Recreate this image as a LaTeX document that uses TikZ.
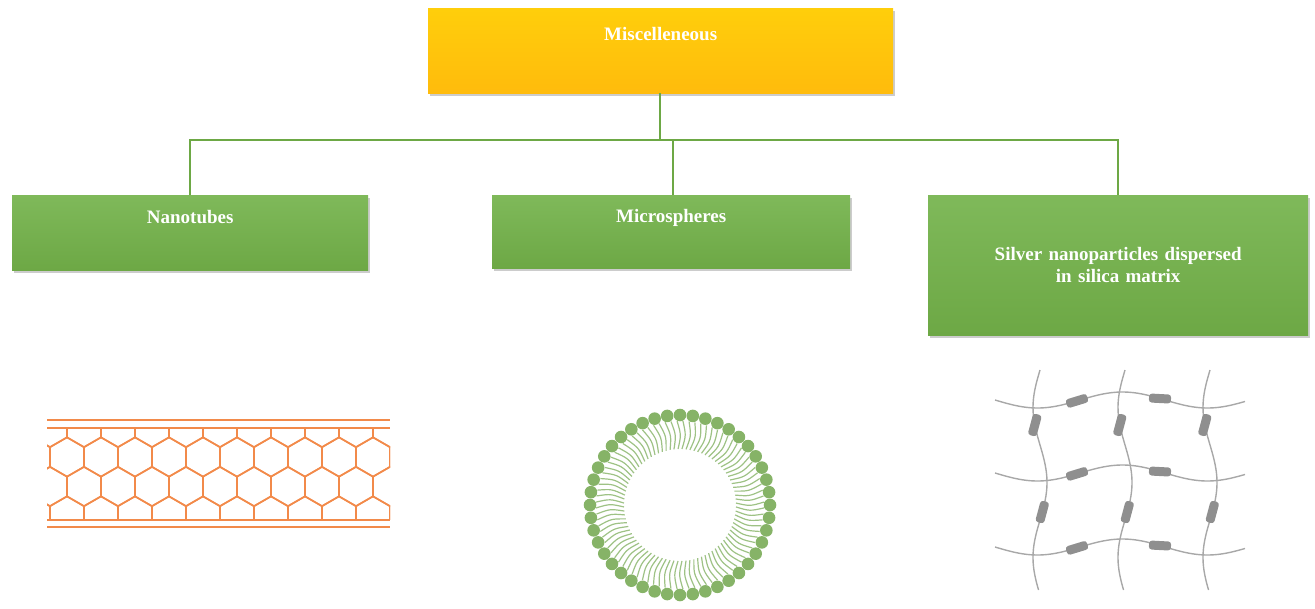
\documentclass[tikz,border=0pt]{standalone}
\usepackage{fontspec}
\setmainfont{Liberation Serif}
\usetikzlibrary{shadows}
\definecolor{grn}{HTML}{6DA845}
\definecolor{grnl}{HTML}{7FB95A}
\definecolor{gold}{HTML}{FFC20E}
\definecolor{org}{HTML}{F28A4A}
\definecolor{dotg}{HTML}{86B367}
\definecolor{net}{HTML}{A8A8A8}
\begin{document}
\begin{tikzpicture}[x=1pt,y=-1pt,
  box/.style={draw=none,top color=grnl,bottom color=grn,text=white,font=\bfseries\fontsize{19}{22}\selectfont,align=center,anchor=north west,drop shadow={shadow xshift=2pt,shadow yshift=-3pt,opacity=0.4}},
  link/.style={draw=grn,line width=1.3pt},
  caps/.style={fill=net!85!black,draw=none,rounded corners=3pt,minimum width=22pt,minimum height=9pt,inner sep=0pt}]
\useasboundingbox (0,0) rectangle (1315,608);
\node[box,top color=gold!80!yellow,bottom color=gold!90!orange,minimum width=465,minimum height=85] (top) at (428,8) {Miscelleneous\\[12pt]};
\node[box,minimum width=356,minimum height=75] (a) at (12,195) {Nanotubes\\[10pt]};
\node[box,minimum width=358,minimum height=73] (b) at (492,195) {Microspheres\\[10pt]};
\node[box,minimum width=380,minimum height=140,text width=370] (c) at (928,195) {Silver nanoparticles dispersed\\in silica matrix\\[42pt]};
\coordinate (j) at (660,140);
\draw[link] (660,93) -- (j);
\draw[link] (190,195) -- (190,140) -- (1118,140) -- (1118,195);
\draw[link] (673,140) -- (673,195);
% nanotube
\begin{scope}[org,line width=1.6pt]
\begin{scope}
\clip (47,429) rectangle (390,519);
\foreach \r in {0,1,2,3,4}{
 \foreach \c in {-1,...,11}{
  \pgfmathsetmacro{\cx}{50+\c*34+mod(\r,2)*17}
  \pgfmathsetmacro{\cy}{457+(\r-1)*29.5}
  \draw (\cx,\cy-19.6) -- ++(17,9.8) -- ++(0,19.6) -- ++(-17,9.8) -- ++(-17,-9.8) -- ++(0,-19.6) -- cycle;
 }}
\end{scope}
\draw[line width=2.5pt] (47,420) -- (390,420);
\draw (47,428) -- (390,428);
\draw (47,520) -- (390,520);
\draw[line width=2.5pt] (47,527) -- (390,527);
\end{scope}
% microsphere
\begin{scope}[shift={(680,505)}]
\foreach \i in {0,...,43}{
 \pgfmathsetmacro{\a}{\i*360/44}
 \draw[dotg!80,line width=1.2pt] (\a+2:84) .. controls (\a+5:70) .. (\a+2:56);
 \draw[dotg!80,line width=1.2pt] (\a-2:84) .. controls (\a+1:70) .. (\a-2:56);
 \fill[dotg] (\a:90) circle (6.3);
}
\end{scope}
% network
\begin{scope}[net,line width=1.4pt]
\foreach \yb in {400,473,547}{
 \begin{scope}[shift={(995,\yb)}]
 \draw plot[domain=0:250,samples=50,smooth] (\x,{8*sin(\x*2.1176)});
 \end{scope}
}
\foreach \xb in {1040,1125,1210}{
 \begin{scope}[shift={(\xb,370)}]
 \draw plot[domain=0:220,samples=50,smooth] ({-7*sin(\x*2.4)},\x);
 \end{scope}
}
\foreach \yb/\xb/\ang in {400/1077/17,400/1160/-3,473/1077/17,473/1160/-3,547/1077/17,547/1160/-3}{
  \pgfmathsetmacro{\yy}{\yb+8*sin((\xb-995)*2.1176)}
  \node[caps,rotate=\ang] at (\xb,\yy) {};
}
\foreach \xb in {1040,1125,1210}{
 \foreach \yb in {425,512}{
  \pgfmathsetmacro{\xp}{\xb-7*sin((\yb-370)*2.4)}
  \node[caps,rotate=75] at (\xp,\yb) {};
 }}
\end{scope}
\end{tikzpicture}
\end{document}
